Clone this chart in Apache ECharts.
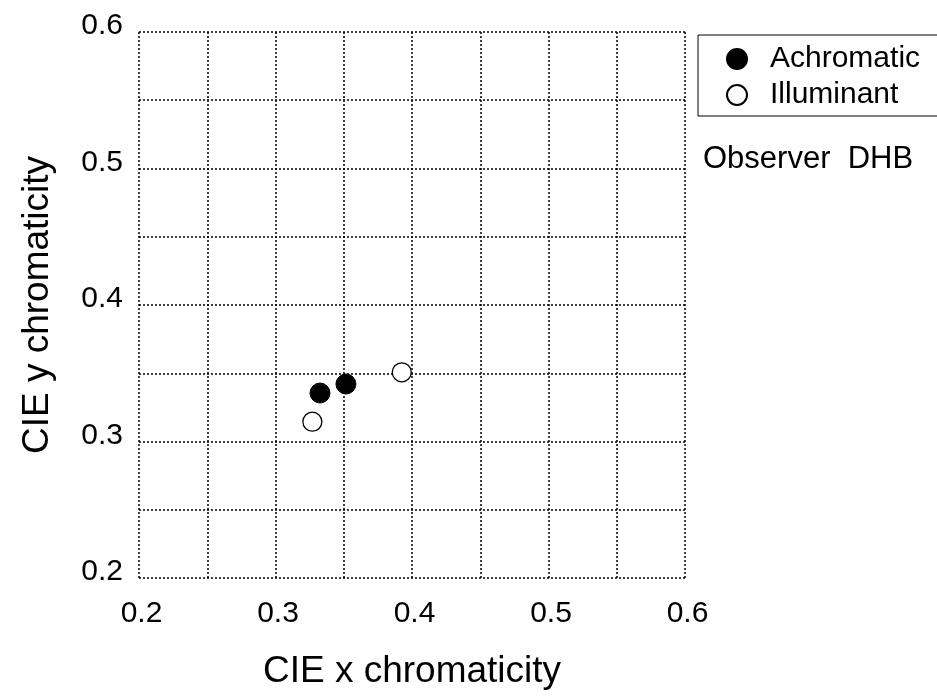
<!DOCTYPE html>
<html><head><meta charset="utf-8">
<script src="https://cdn.jsdelivr.net/npm/echarts@6/dist/echarts.min.js"></script>
<style>html,body{margin:0;padding:0;background:#fff}#c{width:937px;height:696px}</style>
</head><body><div id="c"></div>
<script>
const achromaticX = [0.3326, 0.3516];
const achromaticY = [0.3355, 0.3421];
const illuminantX = [0.3270, 0.3925];
const illuminantY = [0.3145, 0.3507];
const axisMin = 0.2, axisMax = 0.6, gridStep = 0.05;
const xName = 'CIE x chromaticity';
const yName = 'CIE y chromaticity';
const noteText = 'Observer  DHB';

const font = 'Arial, "Liberation Sans", sans-serif';
const pairs = (xs, ys) => xs.map((x, i) => [x, ys[i]]);
const labelFmt = v => Math.abs(v * 10 - Math.round(v * 10)) < 1e-6 ? v.toFixed(1) : '';

const axisCommon = {
  type: 'value', min: axisMin, max: axisMax, interval: gridStep,
  axisLine: { show: false },
  axisTick: { show: false },
  splitLine: { show: true, lineStyle: { color: '#000', type: [2, 2], width: 1.5 } },
  axisLabel: { formatter: labelFmt, color: '#000', fontSize: 30, fontFamily: font, showMinLabel: true, showMaxLabel: true },
  nameLocation: 'middle',
  nameTextStyle: { color: '#000', fontSize: 37, fontFamily: font }
};

const chart = echarts.init(document.getElementById('c'), null, { renderer: 'canvas' });
chart.setOption({
  animation: false,
  backgroundColor: '#fff',
  grid: { left: 139, top: 32, width: 546, height: 546, containLabel: false },
  xAxis: Object.assign({}, axisCommon, {
    name: xName, nameGap: 75,
    axisLabel: Object.assign({}, axisCommon.axisLabel, { margin: 21, padding: [0, 0, 0, 5] })
  }),
  yAxis: Object.assign({}, axisCommon, {
    name: yName, nameGap: 83,
    axisLabel: Object.assign({}, axisCommon.axisLabel, { margin: 16, verticalAlign: 'bottom', lineHeight: 12 })
  }),
  legend: {
    orient: 'vertical', left: 698, top: 35, width: 300,
    padding: [9, 60, 6, 28],
    borderColor: '#000', borderWidth: 1,
    itemGap: 6, itemWidth: 20, itemHeight: 20,
    textStyle: { color: '#000', fontSize: 30, fontFamily: font, padding: [0, 0, 0, 18] },
    data: [
      { name: 'Achromatic', icon: 'circle' },
      { name: 'Illuminant', icon: 'circle' }
    ]
  },
  title: {
    text: noteText, left: 698, top: 139,
    textStyle: { color: '#000', fontSize: 31, fontWeight: 'normal', fontFamily: font }
  },
  series: [
    { name: 'Achromatic', type: 'scatter', symbol: 'circle', symbolSize: 20,
      itemStyle: { color: '#000', borderColor: '#000', borderWidth: 1, opacity: 1 },
      data: pairs(achromaticX, achromaticY), z: 3 },
    { name: 'Illuminant', type: 'scatter', symbol: 'circle', symbolSize: 19,
      itemStyle: { color: '#fff', borderColor: '#000', borderWidth: 1.3, opacity: 1 },
      data: pairs(illuminantX, illuminantY), z: 3 }
  ]
});
</script></body></html>
